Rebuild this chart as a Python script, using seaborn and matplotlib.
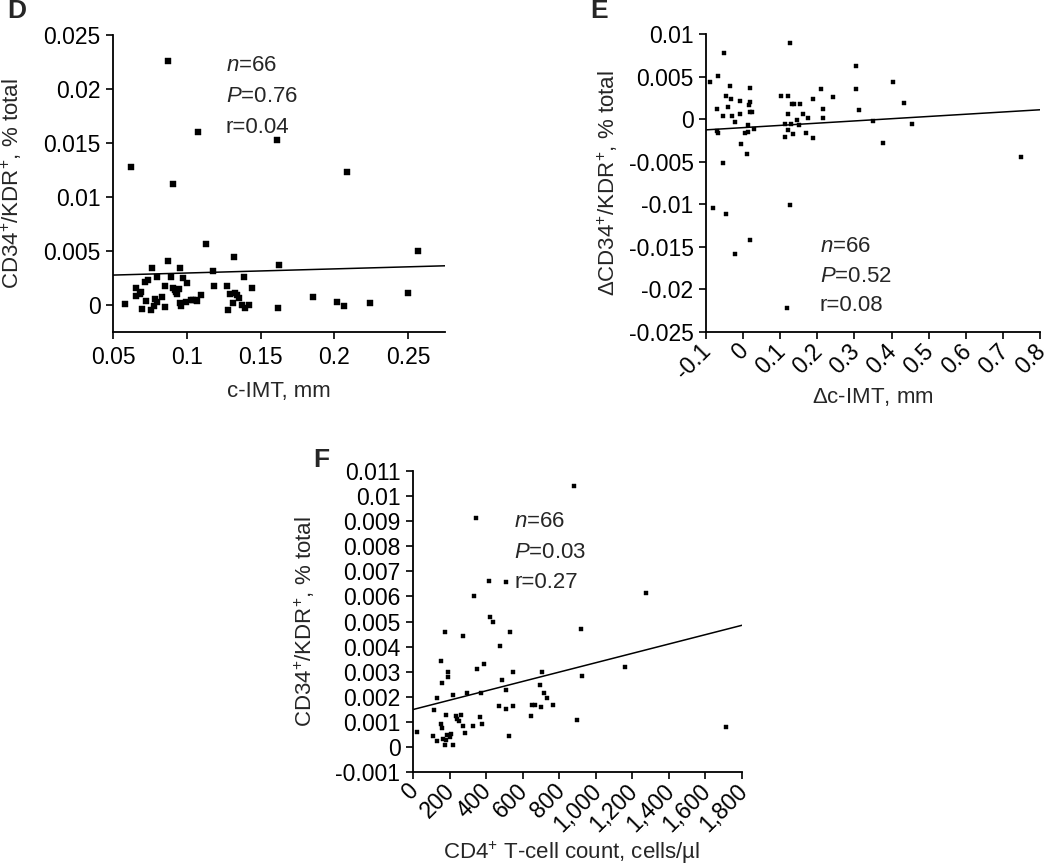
import numpy as np
import pandas as pd
import matplotlib
matplotlib.use("Agg")
import matplotlib.pyplot as plt
import seaborn as sns

# ---------------- data ----------------
# Panel D: c-IMT (mm) vs CD34+/KDR+ (% total)
d_x = [0.0873, 0.1076, 0.1613, 0.0624, 0.0908, 0.2083, 0.1129, 0.2569, 0.1323, 0.0873,
       0.1627, 0.0767, 0.0956, 0.1175, 0.1385, 0.0795, 0.0896, 0.0714, 0.0972, 0.1002,
       0.0850, 0.1182, 0.1270, 0.1445, 0.0654, 0.0905, 0.0929, 0.0659, 0.1094, 0.1290,
       0.1329, 0.0933, 0.1853, 0.2500, 0.1352, 0.1041, 0.1065, 0.0998, 0.0956, 0.0961,
       0.0724, 0.0786, 0.0800, 0.0583, 0.0855, 0.1316, 0.1424, 0.1394, 0.1279, 0.0760,
       0.0700, 0.0776, 0.2016, 0.2067, 0.2242, 0.1618, 0.1070, 0.0690, 0.0740, 0.0945,
       0.1030, 0.1340, 0.0920, 0.0680, 0.1375, 0.0830]
d_y = [0.02263, 0.01602, 0.01525, 0.01276, 0.01122, 0.01233, 0.00563, 0.00501, 0.00440, 0.00410,
       0.00366, 0.00338, 0.00347, 0.00317, 0.00261, 0.00261, 0.00261, 0.00215, 0.00246, 0.00200,
       0.00178, 0.00178, 0.00178, 0.00160, 0.00154, 0.00160, 0.00123, 0.00086, 0.00092, 0.00098,
       0.00111, 0.00098, 0.00077, 0.00108, 0.00062, 0.00046, 0.00046, 0.00025, 0.00022, -0.00006,
       0.00034, 0.00055, 0.00025, 0.00012, -0.00015, 0.00018, 0.00003, -0.00030, -0.00046, -0.00046,
       -0.00040, -0.00006, 0.00030, -0.00012, 0.00018, -0.00030, 0.00040, 0.00120, 0.00230, 0.00150,
       0.00050, 0.00090, 0.00140, 0.00100, 0.00000, 0.00070]
d_fit = (0.00277, 0.00363)   # fitted line value at x = 0.05 and x = 0.275

# Panel E: delta c-IMT (mm) vs delta CD34+/KDR+ (% total)
e_x = [-0.089, -0.069, -0.052, -0.036, -0.047, -0.033, -0.070, -0.041, -0.055, -0.030,
       -0.022, -0.008, -0.008, 0.015, 0.019, 0.018, 0.025, 0.019, 0.013, 0.005,
       0.012, 0.028, -0.071, -0.067, -0.007, 0.011, -0.055, -0.081, -0.047, -0.021,
       0.019, 0.127, 0.101, 0.120, 0.120, 0.131, 0.137, 0.154, 0.162, 0.113,
       0.129, 0.144, 0.151, 0.176, 0.188, 0.211, 0.216, 0.216, 0.242, 0.114,
       0.135, 0.169, 0.188, 0.121, 0.127, 0.117, 0.303, 0.303, 0.312, 0.349,
       0.376, 0.405, 0.434, 0.454, 0.748]
e_y = [0.00432, 0.00510, 0.00777, 0.00385, 0.00275, 0.00235, 0.00118, 0.00137, 0.00039, 0.00039,
       -0.00039, 0.00216, 0.00059, 0.00165, 0.00365, 0.00196, 0.00078, 0.00078, -0.00067, -0.00157,
       -0.00149, -0.00118, -0.00145, -0.00157, -0.00287, -0.00404, -0.00518, -0.01040, -0.01119, -0.01582,
       -0.01425, 0.00891, 0.00275, 0.00275, 0.00059, 0.00177, 0.00177, 0.00177, 0.00059, -0.00059,
       -0.00059, -0.00008, -0.00071, 0.00008, 0.00235, 0.00353, 0.00118, 0.00008, 0.00259, -0.00208,
       -0.00173, -0.00157, -0.00224, -0.00126, -0.01005, -0.02217, 0.00620, 0.00353, 0.00106, -0.00020,
       -0.00283, 0.00432, 0.00184, -0.00059, -0.00444]
e_fit = (-0.00126, 0.00110)  # fitted line value at x = -0.1 and x = 0.8

# Panel F: CD4+ T-cell count (cells/ul) vs CD34+/KDR+ (% total)
f_x = [22, 882, 345, 335, 417, 510, 1274, 423, 436, 175,
       272, 529, 919, 478, 153, 387, 352, 190, 190, 160,
       545, 706, 926, 1158, 485, 697, 510, 715, 735, 764,
       219, 294, 372, 131, 470, 545, 509, 649, 666, 701,
       647, 897, 1710, 115, 182, 237, 264, 250, 272, 328,
       368, 379, 155, 158, 284, 109, 131, 166, 186, 210,
       175, 219, 527, 181, 200, 240]
f_y = [0.00060, 0.01041, 0.00912, 0.00603, 0.00663, 0.00657, 0.00614, 0.00518, 0.00498, 0.00457,
       0.00444, 0.00457, 0.00470, 0.00401, 0.00344, 0.00331, 0.00311, 0.00297, 0.00278, 0.00255,
       0.00297, 0.00297, 0.00282, 0.00317, 0.00268, 0.00248, 0.00226, 0.00215, 0.00195, 0.00169,
       0.00207, 0.00214, 0.00214, 0.00195, 0.00165, 0.00162, 0.00151, 0.00167, 0.00167, 0.00158,
       0.00122, 0.00109, 0.00080, 0.00149, 0.00129, 0.00122, 0.00129, 0.00102, 0.00085, 0.00085,
       0.00118, 0.00093, 0.00093, 0.00076, 0.00056, 0.00045, 0.00025, 0.00032, 0.00049, 0.00053,
       0.00009, 0.00009, 0.00045, 0.00027, 0.00040, 0.00110]
f_fit = (0.00149, 0.00485)   # fitted line value at x = 0 and x = 1800

# tick labels
d_xticks = [0.05, 0.1, 0.15, 0.2, 0.25]
d_xlabels = ["0.05", "0.1", "0.15", "0.2", "0.25"]
d_yticks = [0, 0.005, 0.01, 0.015, 0.02, 0.025]
d_ylabels = ["0", "0.005", "0.01", "0.015", "0.02", "0.025"]
e_xticks = [-0.1, 0, 0.1, 0.2, 0.3, 0.4, 0.5, 0.6, 0.7, 0.8]
e_xlabels = ["-0.1", "0", "0.1", "0.2", "0.3", "0.4", "0.5", "0.6", "0.7", "0.8"]
e_yticks = [-0.025, -0.02, -0.015, -0.01, -0.005, 0, 0.005, 0.01]
e_ylabels = ["-0.025", "-0.02", "-0.015", "-0.01", "-0.005", "0", "0.005", "0.01"]
f_xticks = [0, 200, 400, 600, 800, 1000, 1200, 1400, 1600, 1800]
f_xlabels = ["0", "200", "400", "600", "800", "1,000", "1,200", "1,400", "1,600", "1,800"]
f_yticks = [-0.001, 0, 0.001, 0.002, 0.003, 0.004, 0.005, 0.006, 0.007, 0.008, 0.009, 0.01, 0.011]
f_ylabels = ["-0.001", "0", "0.001", "0.002", "0.003", "0.004", "0.005", "0.006", "0.007",
             "0.008", "0.009", "0.01", "0.011"]

# ---------------- style ----------------
sns.set_theme(style="ticks")
plt.rcParams["font.family"] = ["Liberation Sans", "DejaVu Sans"]
plt.rcParams["mathtext.fontset"] = "custom"
plt.rcParams["mathtext.rm"] = "Liberation Sans"
plt.rcParams["mathtext.it"] = "Liberation Sans:italic"
plt.rcParams["mathtext.bf"] = "Liberation Sans:bold"

FS = 16.5
LFS = 16
fig = plt.figure(figsize=(10.5, 8.65), dpi=100)

axD = fig.add_axes([0.1076, 0.6162, 0.3162, 0.3433])
axE = fig.add_axes([0.6724, 0.6162, 0.3181, 0.3445])
axF = fig.add_axes([0.3933, 0.1075, 0.3134, 0.3480])


def style_axes(ax):
    for s in ["top", "right"]:
        ax.spines[s].set_visible(False)
    for s in ["left", "bottom"]:
        ax.spines[s].set_linewidth(1.3)
        ax.spines[s].set_color("black")
    ax.tick_params(axis="both", direction="out", length=5, width=1.2,
                   labelsize=FS, colors="black")
    ax.tick_params(axis="y", pad=4)
    ax.tick_params(axis="x", pad=5)


def draw(ax, xs, ys, fit, xlim, ms):
    df = pd.DataFrame({"x": xs, "y": ys})
    sns.scatterplot(data=df, x="x", y="y", ax=ax, marker="s", s=ms,
                    color="black", edgecolor="black", linewidth=0.3, legend=False)
    line = pd.DataFrame({"x": list(xlim), "y": list(fit)})
    sns.lineplot(data=line, x="x", y="y", ax=ax, color="black", linewidth=1.1)


# Panel D
draw(axD, d_x, d_y, d_fit, (0.05, 0.275), 18)
axD.set_xlim(0.05, 0.275)
axD.set_ylim(-0.0025, 0.025)
axD.set_xticks(d_xticks, d_xlabels)
axD.set_yticks(d_yticks, d_ylabels)
style_axes(axD)
axD.set_xlabel("c-IMT, mm", fontsize=LFS, va="center")
axD.set_ylabel(r"CD34$^{+}$/KDR$^{+}$, % total", fontsize=LFS, va="center")
axD.xaxis.set_label_coords(0.5, -0.202)
axD.yaxis.set_label_coords(-0.305, 0.5)
for i, t in enumerate([r"$n$=66", r"$P$=0.76", "r=0.04"]):
    axD.text(0.1265, 0.0222 - i * 0.0029, t, fontsize=LFS, va="center", ha="left")
fig.text(0.016, 0.987, "D", fontsize=19, fontweight="bold", va="center", ha="center")

# Panel E
draw(axE, e_x, e_y, e_fit, (-0.1, 0.8), 8)
axE.set_xlim(-0.1, 0.8)
axE.set_ylim(-0.025, 0.01)
axE.set_xticks(e_xticks, e_xlabels, rotation=45, ha="right", va="center_baseline",
               rotation_mode="anchor")
axE.set_yticks(e_yticks, e_ylabels)
style_axes(axE)
axE.set_xlabel(r"$\Delta$c-IMT, mm", fontsize=LFS, va="center")
axE.set_ylabel(r"$\Delta$CD34$^{+}$/KDR$^{+}$, % total", fontsize=LFS, va="center")
axE.xaxis.set_label_coords(0.5, -0.218)
axE.yaxis.set_label_coords(-0.293, 0.5)
for i, t in enumerate([r"$n$=66", r"$P$=0.52", "r=0.08"]):
    axE.text(0.207, -0.0150 - i * 0.00345, t, fontsize=LFS, va="center", ha="left")
fig.text(0.571, 0.987, "E", fontsize=19, fontweight="bold", va="center", ha="center")

# Panel F
draw(axF, f_x, f_y, f_fit, (0, 1800), 8)
axF.set_xlim(0, 1800)
axF.set_ylim(-0.001, 0.011)
axF.set_xticks(f_xticks, f_xlabels, rotation=45, ha="right", va="center_baseline",
               rotation_mode="anchor")
axF.set_yticks(f_yticks, f_ylabels)
style_axes(axF)
axF.set_xlabel(r"CD4$^{+}$ T-cell count, cells/µl", fontsize=LFS, va="center")
axF.set_ylabel(r"CD34$^{+}$/KDR$^{+}$, % total", fontsize=LFS, va="center")
axF.xaxis.set_label_coords(0.482, -0.269)
axF.yaxis.set_label_coords(-0.328, 0.5)
for i, t in enumerate([r"$n$=66", r"$P$=0.03", "r=0.27"]):
    axF.text(555, 0.00897 - i * 0.0012, t, fontsize=LFS, va="center", ha="left")
fig.text(0.306, 0.468, "F", fontsize=19, fontweight="bold", va="center", ha="center")

fig.savefig("out.png", dpi=100)
